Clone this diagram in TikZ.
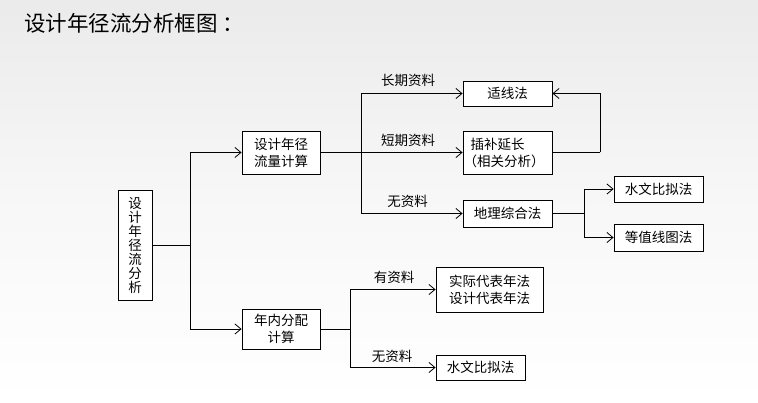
\documentclass[tikz,border=0pt]{standalone}
\usepackage{fontspec}
\newfontfamily\cjk{Noto Sans CJK SC}
\usetikzlibrary{arrows.meta,positioning}

\begin{document}
\begin{tikzpicture}[
  x=1pt, y=-1pt,
  box/.style={draw, fill=white, line width=0.9pt, align=center, inner sep=2pt,
    font=\cjk\fontsize{13.5}{17}\selectfont},
  lbl/.style={font=\cjk\fontsize{13.5}{16}\selectfont, inner sep=0pt},
  conn/.style={line width=0.8pt},
  arr/.style={conn, -{Straight Barb[length=6pt, width=10pt, line width=0.8pt]}}
]
\useasboundingbox (0,0) rectangle (758,403);
\shade[top color=gray!16, bottom color=white, middle color=gray!6] (0,403) rectangle (758,0);
% title
\node[anchor=west, inner sep=0pt, font=\cjk\fontsize{21.5}{24}\selectfont] (title) at (24,23) {设计年径流分析框图\kern5pt：};
% boxes
\node[box, minimum width=34, minimum height=110, font=\cjk\fontsize{13.5}{14}\selectfont] (main) at (135,245) {设\\计\\年\\径\\流\\分\\析};
\node[box, minimum width=78, minimum height=43] (flow) at (281,152.5) {设计年径\\流量计算};
\node[box, minimum width=78, minimum height=40] (dist) at (281,329) {年内分配\\计算};
\node[box, minimum width=89, minimum height=25] (fit) at (507.5,93.5) {适线法};
\node[box, minimum width=89, minimum height=43, align=left] (ext) at (507.5,152.5) {插补延长\\\kern-7pt（相关分析）};
\node[box, minimum width=89, minimum height=27] (geo) at (507.5,213.5) {地理综合法};
\node[box, minimum width=89, minimum height=26] (ana1) at (658.5,189) {水文比拟法};
\node[box, minimum width=89, minimum height=27] (iso) at (658.5,237.5) {等值线图法};
\node[box, minimum width=107, minimum height=45] (rep) at (489.5,289.5) {实际代表年法\\设计代表年法};
\node[box, minimum width=89, minimum height=25] (ana2) at (480.5,367.5) {水文比拟法};
% labels
\node[lbl] (long) at (408,80) {长期资料};
\node[lbl] (short) at (408,140) {短期资料};
\node[lbl] (none1) at (407.5,201) {无资料};
\node[lbl] (has) at (394,277) {有资料};
\node[lbl] (none2) at (392,356) {无资料};
% junctions
\coordinate (j0) at (190,245);
\coordinate (j1) at (361,152.5);
\coordinate (j2) at (584,213.5);
\coordinate (j3) at (350,329);
\coordinate (j4) at (600,152.5);
% connectors
\draw[conn] (main) -- (j0);
\draw[arr] (j0) |- (flow);
\draw[arr] (j0) |- (dist);
\draw[conn] (flow) -- (j1);
\draw[arr] (j1) |- (fit);
\draw[arr] (j1) -- (ext);
\draw[arr] (j1) |- (geo);
\draw[conn] (ext) -- (j4);
\draw[arr] (j4) |- (fit);
\draw[conn] (geo) -- (j2);
\draw[arr] (j2) |- (ana1);
\draw[arr] (j2) |- (iso);
\draw[conn] (dist) -- (j3);
\draw[arr] (j3) |- (rep);
\draw[arr] (j3) |- (ana2);
\end{tikzpicture}
\end{document}
